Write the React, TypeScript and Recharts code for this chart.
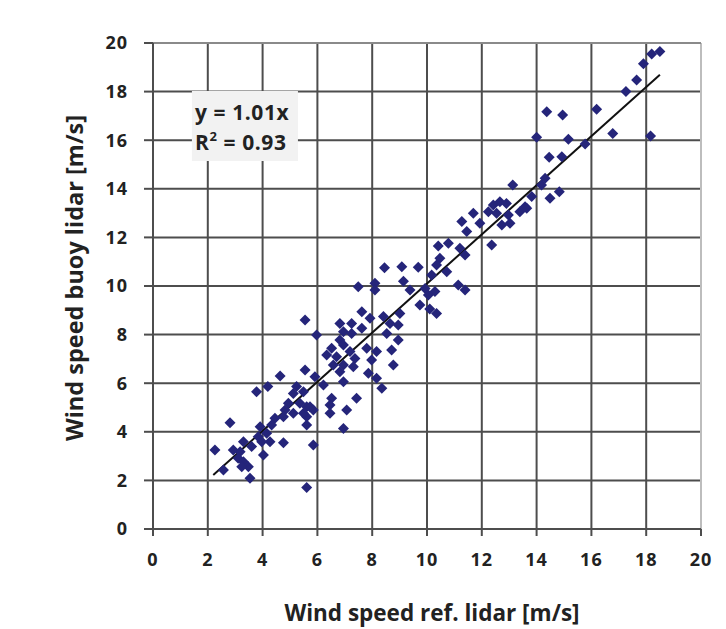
import React from "react";
import {
  ScatterChart,
  Scatter,
  XAxis,
  YAxis,
  CartesianGrid,
  ReferenceLine,
  ReferenceArea,
  Label,
} from "recharts";

const refLidar: number[] = [
  4.64, 3.78, 4.19, 4.94, 4.82, 4.76, 4.45, 2.81, 4.33, 3.91, 4.15, 3.84, 3.97, 4.27, 4.76, 5.85,
  3.3, 3.6, 2.93, 2.26, 3.18, 4.03, 3.11, 3.3, 3.48, 3.24, 2.57, 3.54, 5.61, 5.61, 5.61,
  7.49, 8.1, 8.1, 9.14, 10.1, 5.55, 5.97, 7.62, 6.82, 7.25, 7.92, 8.41, 9.01, 8.65, 8.95,
  6.95, 7.25, 7.62, 8.53, 8.95, 6.82, 6.52, 6.95, 6.34, 6.7, 7.19, 7.37, 7.8, 8.16, 8.71,
  7.98, 8.77, 6.95, 7.31, 6.58, 6.82, 5.55, 5.91, 6.22, 6.95, 7.86, 8.16, 8.35, 5.24, 5.49,
  5.12, 6.52, 7.43, 5.36, 5.73, 6.46, 5.12, 5.49, 5.85, 6.46, 7.07, 5.61, 6.95,
  13.13, 14.18, 14.49, 13.82, 12.66, 12.42, 12.9, 12.24, 12.54, 12.97, 13.39, 13.64, 12.73,
  13.03, 11.69, 11.27, 11.93, 11.45, 12.36, 10.78, 10.41, 11.2, 11.39, 10.47, 9.68, 10.35,
  10.72, 10.17, 9.08, 9.38, 9.93, 10.29, 11.14, 11.39, 10.05, 9.74, 10.35, 8.45,
  18.5, 18.2, 17.9, 17.65, 17.26, 14.37, 14.95, 16.19, 14.0, 15.16, 15.77, 16.78, 18.16,
  14.46, 14.92, 14.31, 14.83, 13.58,
];

const buoyLidar: number[] = [
  6.3, 5.65, 5.86, 5.17, 4.9, 4.62, 4.56, 4.37, 4.28, 4.21, 3.94, 3.8, 3.59, 3.59, 3.55, 3.46,
  3.59, 3.39, 3.25, 3.25, 3.18, 3.05, 2.91, 2.77, 2.56, 2.56, 2.43, 2.09, 1.71, 4.62, 5.03,
  9.97, 10.11, 9.84, 10.2, 9.05, 8.6, 7.98, 8.94, 8.46, 8.46, 8.67, 8.74, 8.87, 8.46, 8.4,
  8.12, 8.05, 8.26, 8.05, 7.78, 7.78, 7.44, 7.57, 7.16, 7.09, 7.3, 7.02, 7.44, 7.3, 7.37,
  6.95, 6.75, 6.75, 6.68, 6.75, 6.47, 6.54, 6.27, 5.93, 6.06, 6.41, 6.2, 5.79, 5.86, 5.65,
  5.58, 5.38, 5.38, 5.17, 5.03, 5.1, 4.76, 4.76, 4.9, 4.76, 4.9, 4.28, 4.14,
  14.16, 14.16, 13.61, 13.68, 13.47, 13.33, 13.4, 13.06, 12.99, 12.92, 13.06, 13.2, 12.51,
  12.58, 12.99, 12.65, 12.58, 12.24, 11.69, 11.76, 11.65, 11.55, 11.28, 11.14, 10.77, 10.86,
  10.59, 10.45, 10.79, 9.84, 9.9, 9.77, 10.04, 9.84, 9.63, 9.22, 8.87, 10.75,
  19.65, 19.55, 19.15, 18.48, 18.0, 17.17, 17.04, 17.27, 16.12, 16.04, 15.84, 16.28, 16.17,
  15.3, 15.32, 14.43, 13.88, 13.26,
];

const axisTicks: number[] = [0, 2, 4, 6, 8, 10, 12, 14, 16, 18, 20];

// regression line y = 1.01x endpoints
const trendX: number[] = [2.2, 18.5];
const trendY: number[] = [2.22, 18.69];

// equation box corners (data units)
const boxX: number[] = [1.42, 5.29];
const boxY: number[] = [15.14, 18.02];

const xTitle = "Wind speed ref. lidar [m/s]";
const yTitle = "Wind speed buoy lidar [m/s]";

const points = refLidar.map((x, i) => ({ x, y: buoyLidar[i] }));

const FONT = "'Open Sans', 'DejaVu Sans', sans-serif";
const GRID = "#4d4d4d";
const MARK = "#25257a";

const Diamond = (props: any) => {
  const { cx, cy } = props;
  if (cx == null || cy == null) return <g />;
  const r = 5.5;
  return (
    <polygon
      points={`${cx},${cy - r} ${cx + r},${cy} ${cx},${cy + r} ${cx - r},${cy}`}
      fill={MARK}
    />
  );
};

const tickStyle = { fontFamily: FONT, fontWeight: 700, fontSize: 18, fill: "#222", letterSpacing: 1 };

const EquationLabel = (props: any) => {
  const vb = props.viewBox || {};
  const x0 = (vb.x ?? 0) + 3;
  const y0 = vb.y ?? 0;
  return (
    <g>
      <text x={x0} y={y0 + 29} fontSize={21} fontFamily={FONT} fontWeight={700} fill="#222" letterSpacing={0.6}>
        y = 1.01x
      </text>
      <text x={x0} y={y0 + 59} fontSize={21} fontFamily={FONT} fontWeight={700} fill="#222" letterSpacing={0.6}>
        R
        <tspan fontSize={13} dy={-9}>2</tspan>
        <tspan dy={9}> = 0.93</tspan>
      </text>
    </g>
  );
};

const XTitle = (props: any) => {
  const vb = props.viewBox || {};
  const cx = (vb.x ?? 0) + (vb.width ?? 0) / 2 + 5;
  const cy = (vb.y ?? 0) + 83;
  return (
    <text
      x={cx}
      y={cy}
      textAnchor="middle"
      dominantBaseline="central"
      fontFamily={FONT}
      fontWeight={700}
      fontSize={22.5}
      fill="#222"
    >
      {xTitle}
    </text>
  );
};

const YTitle = (props: any) => {
  const vb = props.viewBox || {};
  const cx = (vb.x ?? 0) + 66;
  const cy = (vb.y ?? 0) + (vb.height ?? 0) / 2 - 8;
  return (
    <text
      x={cx}
      y={cy}
      transform={`rotate(-90 ${cx} ${cy})`}
      textAnchor="middle"
      dominantBaseline="central"
      fontFamily={FONT}
      fontWeight={700}
      fontSize={23.5}
      fill="#222"
    >
      {yTitle}
    </text>
  );
};

export default function App() {
  return (
    <div style={{ width: 710, height: 621 }}>
      <ScatterChart
        width={710}
        height={621}
        margin={{ top: 35, right: 17, bottom: 40, left: 0 }}
      >
        <CartesianGrid stroke={GRID} strokeWidth={2} />
        <XAxis
          type="number"
          dataKey="x"
          domain={[0, 20]}
          ticks={axisTicks}
          interval={0}
          height={60}
          tick={tickStyle}
          tickSize={7}
          tickMargin={17}
          axisLine={{ stroke: GRID, strokeWidth: 2 }}
          tickLine={{ stroke: GRID, strokeWidth: 2 }}
          allowDataOverflow
        >
          <Label content={<XTitle />} />
        </XAxis>
        <YAxis
          type="number"
          dataKey="y"
          domain={[0, 20]}
          ticks={axisTicks}
          interval={0}
          width={145}
          tick={tickStyle}
          tickSize={9}
          tickMargin={16}
          axisLine={{ stroke: GRID, strokeWidth: 2 }}
          tickLine={{ stroke: GRID, strokeWidth: 2 }}
          allowDataOverflow
        >
          <Label content={<YTitle />} />
        </YAxis>
        <ReferenceLine x={20} stroke="#bdbdbd" strokeWidth={2} />
        <ReferenceLine y={20} stroke="#8a8a8a" strokeWidth={2} />
        <ReferenceArea
          x1={boxX[0]}
          x2={boxX[1]}
          y1={boxY[0]}
          y2={boxY[1]}
          fill="#f2f2f2"
          fillOpacity={1}
          stroke="none"
          label={<EquationLabel />}
        />
        <Scatter data={points} shape={<Diamond />} isAnimationActive={false} />
        <ReferenceLine
          segment={[
            { x: trendX[0], y: trendY[0] },
            { x: trendX[1], y: trendY[1] },
          ]}
          stroke="#111"
          strokeWidth={2}
        />
      </ScatterChart>
    </div>
  );
}
